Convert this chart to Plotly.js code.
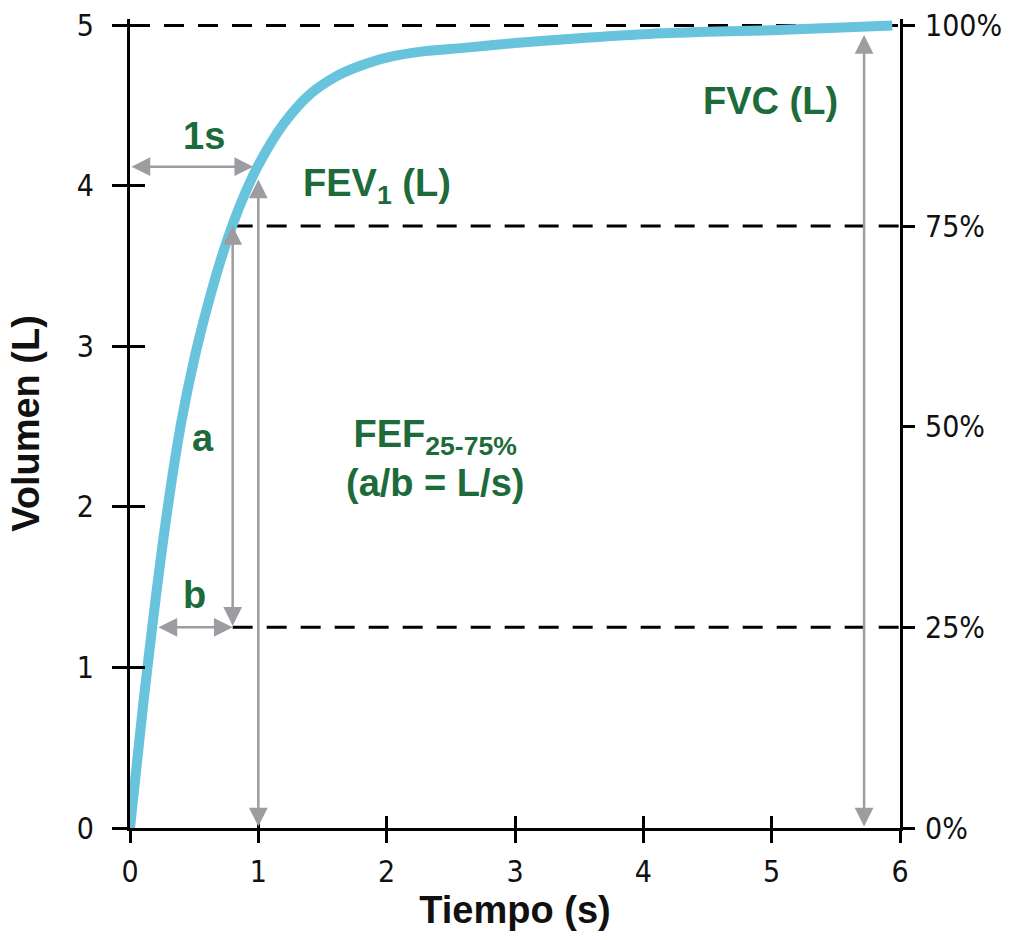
<!DOCTYPE html>
<html>
<head>
<meta charset="utf-8">
<script src="https://cdn.plot.ly/plotly-3.0.1.min.js"></script>
<style>
  html, body { margin: 0; padding: 0; background: #ffffff; }
  #chart { width: 1020px; height: 940px; }
</style>
</head>
<body>
<div id="chart"></div>
<script>
// ---- data ----
const timeS   = [0, 0.1, 0.2, 0.3, 0.4, 0.5, 0.6, 0.7, 0.8, 0.9, 1.0, 1.2, 1.4, 1.6, 1.8, 2.0, 2.3, 2.6, 3.0, 3.5, 4.0, 4.5, 5.0, 5.5, 5.94];
const volumeL = [0, 0.75, 1.43, 2.03, 2.53, 2.92, 3.24, 3.52, 3.76, 3.96, 4.13, 4.39, 4.57, 4.68, 4.75, 4.80, 4.84, 4.86, 4.89, 4.92, 4.945, 4.96, 4.97, 4.985, 5.00];

const xTicks = [0, 1, 2, 3, 4, 5, 6];
const yTicks = [0, 1, 2, 3, 4, 5];
const pctTicks = [0, 25, 50, 75, 100];
const pctLabels = ['0%', '25%', '50%', '75%', '100%'];

const fvcL = 5.0;            // FVC volume
const dashedPct = [25, 75, 100];
const t25 = 0.21;            // where the b arrow starts (curve at 25 %)
const t75 = 0.80;            // time where curve reaches 75 % (a arrow)
const fev1Time = 1;          // 1 s
const fev1Vol = 4.04;        // FEV1 arrow tip
const oneSecVol = 4.12;      // height of the "1s" arrow
const oneSecEnd = 0.96;
const fvcTime = 5.72;        // position of FVC arrow
const fvcTip = 4.94;

const labels = ['1s', 'FEV<sub>1</sub> (L)', 'a', 'b', 'FEF<sub>25-75%</sub><br>(a/b\u00a0=\u00a0L/s)', 'FVC (L)'];

// ---- styles ----
const curveColor = '#68c4dd';
const grey = '#9c9ca1';
const green = '#1d6b3a';
const tickFont = {family: '"DejaVu Sans Condensed", "Liberation Sans Narrow", sans-serif', size: 30, color: '#111'};
const labelFont = {family: '"Liberation Sans", Arial, sans-serif', size: 38, color: green, weight: 'bold'};
const titleFont = {family: '"Liberation Sans", Arial, sans-serif', size: 38, color: '#111', weight: 'bold'};

const yMax = 5.04;

const traces = [
  {x: timeS, y: volumeL, mode: 'lines', type: 'scatter',
   line: {color: curveColor, width: 10, shape: 'spline', smoothing: 0.8},
   hoverinfo: 'skip', showlegend: false},
  {x: [], y: [], xaxis: 'x2', yaxis: 'y3', type: 'scatter', showlegend: false, hoverinfo: 'skip'},
  {x: [], y: [], yaxis: 'y2', type: 'scatter', showlegend: false, hoverinfo: 'skip'}
];

// dashed reference lines
const shapes = dashedPct.map(p => ({
  type: 'line', xref: 'x', yref: 'y', layer: 'below',
  x0: p === 100 ? 0 : t75, x1: 6,
  y0: fvcL * p / 100, y1: fvcL * p / 100,
  line: {color: '#000', width: 3, dash: '20px,14px'}
}));

function arrow(x0, y0, x1, y1) {
  return {
    xref: 'x', yref: 'y', axref: 'x', ayref: 'y',
    x: x1, y: y1, ax: x0, ay: y0, text: '',
    showarrow: true, arrowside: 'end+start',
    arrowhead: 2, startarrowhead: 2,
    arrowsize: 1.5, startarrowsize: 1.5,
    arrowwidth: 2.5, arrowcolor: grey,
    standoff: 0, startstandoff: 0
  };
}
function label(text, x, y, xanchor) {
  return {xref: 'x', yref: 'y', x: x, y: y, text: text, showarrow: false,
          xanchor: xanchor || 'center', yanchor: 'middle', font: labelFont};
}

const annotations = [
  arrow(0, oneSecVol, oneSecEnd, oneSecVol),
  arrow(fev1Time, 0, fev1Time, fev1Vol),
  arrow(t75, fvcL * 0.25, t75, fvcL * 0.75),
  arrow(t25, fvcL * 0.25, t75, fvcL * 0.25),
  arrow(fvcTime, 0, fvcTime, fvcTip),
  label(labels[0], 0.58, 4.31),
  label(labels[1], 1.33, 4.0, 'left'),
  label(labels[2], 0.57, 2.43),
  label(labels[3], 0.50, 1.45),
  label(labels[4], 2.38, 2.30),
  label(labels[5], 4.99, 4.53)
];

const layout = {
  width: 1020, height: 940,
  margin: {l: 130, r: 120, t: 19, b: 112},
  paper_bgcolor: '#fff', plot_bgcolor: '#fff',
  showlegend: false,
  xaxis: {
    range: [0, 6], tickvals: xTicks, ticktext: xTicks.map(String),
    showline: true, linecolor: '#000', linewidth: 3,
    ticks: 'outside', ticklen: 12, tickwidth: 3, tickcolor: '#000',
    tickfont: tickFont, ticklabelstandoff: 3,
    showgrid: false, zeroline: false,
    title: {text: 'Tiempo (s)', font: titleFont, standoff: 6}
  },
  xaxis2: {
    overlaying: 'x', anchor: 'y', range: [0, 6], tickvals: xTicks,
    ticks: 'inside', ticklen: 12, tickwidth: 3, tickcolor: '#000',
    showticklabels: false, showgrid: false, zeroline: false, showline: false
  },
  yaxis: {
    range: [0, yMax], tickvals: yTicks, ticktext: yTicks.map(String),
    showline: true, linecolor: '#000', linewidth: 3,
    ticks: 'outside', ticklen: 15, tickwidth: 3, tickcolor: '#000',
    tickfont: tickFont, ticklabelstandoff: 12,
    showgrid: false, zeroline: false,
    title: {text: 'Volumen (L)', font: titleFont, standoff: 26}
  },
  yaxis3: {
    overlaying: 'y', anchor: 'x', range: [0, yMax], tickvals: yTicks,
    ticks: 'inside', ticklen: 15, tickwidth: 3, tickcolor: '#000',
    showticklabels: false, showgrid: false, zeroline: false, showline: false
  },
  yaxis2: {
    overlaying: 'y', side: 'right', anchor: 'x',
    range: [0, yMax / fvcL * 100], tickvals: pctTicks, ticktext: pctLabels,
    showline: true, linecolor: '#000', linewidth: 3,
    ticks: 'outside', ticklen: 12, tickwidth: 3, tickcolor: '#000',
    tickfont: tickFont, ticklabelstandoff: 4,
    showgrid: false, zeroline: false
  },
  shapes: shapes,
  annotations: annotations
};

Plotly.newPlot('chart', traces, layout, {displayModeBar: false, staticPlot: true});
</script>
</body>
</html>
